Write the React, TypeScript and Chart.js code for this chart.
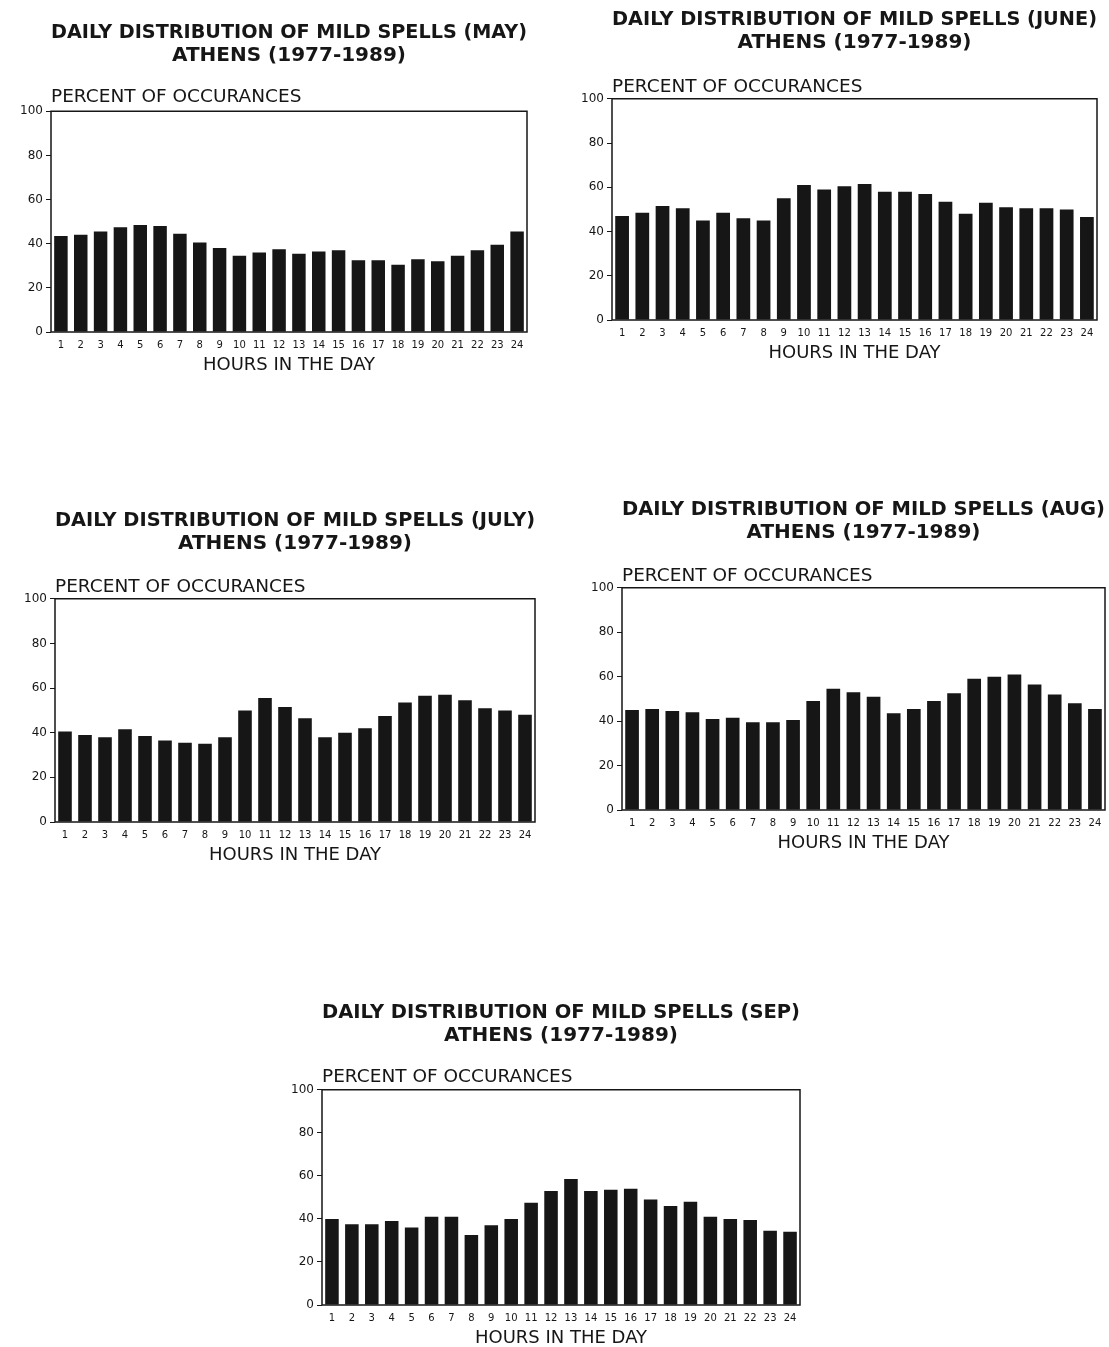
import React, { useEffect, useRef } from "react";
import { Chart, registerables } from "chart.js";

Chart.register(...registerables);

// ---------- data ----------
const HOURS = ["1", "2", "3", "4", "5", "6", "7", "8", "9", "10", "11", "12", "13", "14", "15", "16", "17", "18", "19", "20", "21", "22", "23", "24"];
const Y_TICKS = [0, 20, 40, 60, 80, 100];

const MAY = [43.5, 44, 45.5, 47.5, 48.5, 48, 44.5, 40.5, 38, 34.5, 36, 37.5, 35.5, 36.5, 37, 32.5, 32.5, 30.5, 33, 32, 34.5, 37, 39.5, 45.5];
const JUNE = [47, 48.5, 51.5, 50.5, 45, 48.5, 46, 45, 55, 61, 59, 60.5, 61.5, 58, 58, 57, 53.5, 48, 53, 51, 50.5, 50.5, 50, 46.5];
const JULY = [40.5, 39, 38, 41.5, 38.5, 36.5, 35.5, 35, 38, 50, 55.5, 51.5, 46.5, 38, 40, 42, 47.5, 53.5, 56.5, 57, 54.5, 51, 50, 48];
const AUG = [45, 45.5, 44.5, 44, 41, 41.5, 39.5, 39.5, 40.5, 49, 54.5, 53, 51, 43.5, 45.5, 49, 52.5, 59, 60, 61, 56.5, 52, 48, 45.5];
const SEP = [40, 37.5, 37.5, 39, 36, 41, 41, 32.5, 37, 40, 47.5, 53, 58.5, 53, 53.5, 54, 49, 46, 48, 41, 40, 39.5, 34.5, 34];

const SUBTITLE = "ATHENS (1977-1989)";
const Y_TITLE = "PERCENT OF OCCURANCES";
const X_TITLE = "HOURS IN THE DAY";

// ---------- panel layout (page coordinates) ----------
const PANELS = [
  { title: "DAILY DISTRIBUTION OF MILD SPELLS (MAY)", values: MAY, L: 51, R: 527, T: 111.5, B: 332, t1: 33, sub: 97, padR: 15 },
  { title: "DAILY DISTRIBUTION OF MILD SPELLS (JUNE)", values: JUNE, L: 612, R: 1097, T: 99, B: 320, t1: 20, sub: 87, padR: 12 },
  { title: "DAILY DISTRIBUTION OF MILD SPELLS (JULY)", values: JULY, L: 55, R: 535, T: 599, B: 822, t1: 521, sub: 587, padR: 15 },
  { title: "DAILY DISTRIBUTION OF MILD SPELLS (AUG)", values: AUG, L: 622, R: 1105, T: 588, B: 810, t1: 510, sub: 576, padR: 4 },
  { title: "DAILY DISTRIBUTION OF MILD SPELLS (SEP)", values: SEP, L: 322, R: 800, T: 1090, B: 1305, t1: 1013, sub: 1077, padR: 15 },
];

const FONT = "'DejaVu Sans', 'Liberation Sans', sans-serif";
const INK = "#161616";
const Y_AXIS_W = 50;
const X_AXIS_H = 45;
const TITLE_SIZE = 20;
const TITLE_LH = 1.175;
const TITLE_PAD_TOP = 4;
const SUB_SIZE = 18.5;
const SUB_LH = 1.15;
const XT_SIZE = 18;

const framePlugin = {
  id: "frame",
  afterDatasetsDraw(chart: any) {
    const { ctx, chartArea } = chart;
    const { left, top, right, bottom } = chartArea;
    ctx.save();
    ctx.strokeStyle = INK;
    ctx.lineWidth = 1.5;
    ctx.strokeRect(left, top, right - left, bottom - top);
    ctx.restore();
  },
};

function Panel(p: any) {
  const ref = useRef<HTMLCanvasElement>(null);
  const titleLine = TITLE_SIZE * TITLE_LH;
  const subLine = SUB_SIZE * SUB_LH;
  const canvasTop = p.t1 - titleLine / 2 - TITLE_PAD_TOP;
  const canvasLeft = p.L - Y_AXIS_W;
  const width = Y_AXIS_W + (p.R - p.L) + p.padR;
  const height = p.B - canvasTop + X_AXIS_H;
  const titleBottom = canvasTop + TITLE_PAD_TOP + 2 * titleLine;
  const subPadTop = p.sub - titleBottom - subLine / 2;
  const subPadBottom = p.T - p.sub - subLine / 2;
  const xtLine = XT_SIZE * 1.1;

  useEffect(() => {
    if (!ref.current) return;
    const chart = new Chart(ref.current, {
      type: "bar",
      data: {
        labels: HOURS,
        datasets: [
          {
            data: p.values,
            backgroundColor: INK,
            borderWidth: 0,
            barPercentage: 0.68,
            categoryPercentage: 1,
          },
        ],
      },
      options: {
        responsive: false,
        animation: false,
        devicePixelRatio: 1,
        layout: { padding: { left: 0, right: p.padR, top: 0, bottom: 0 } },
        plugins: {
          legend: { display: false },
          tooltip: { enabled: false },
          title: {
            display: true,
            text: [p.title, SUBTITLE],
            fullSize: false,
            align: "center",
            color: INK,
            font: { family: FONT, size: TITLE_SIZE, weight: "bold", lineHeight: TITLE_LH },
            padding: { top: TITLE_PAD_TOP, bottom: 0 },
          },
          subtitle: {
            display: true,
            text: Y_TITLE,
            fullSize: false,
            align: "start",
            color: INK,
            font: { family: FONT, size: SUB_SIZE, weight: "normal", lineHeight: SUB_LH },
            padding: { top: subPadTop, bottom: subPadBottom },
          },
        },
        scales: {
          x: {
            grid: { display: false, drawTicks: false },
            border: { display: false },
            ticks: {
              color: INK,
              font: { family: FONT, size: 10 },
              maxRotation: 0,
              autoSkip: false,
              padding: 7,
            },
            title: {
              display: true,
              text: X_TITLE,
              color: INK,
              font: { family: FONT, size: XT_SIZE, lineHeight: 1.1 },
              padding: { top: 0, bottom: X_AXIS_H - 33 - xtLine / 2 },
            },
            afterFit(scale: any) {
              scale.height = X_AXIS_H;
            },
          },
          y: {
            min: 0,
            max: 100,
            grid: { display: true, drawOnChartArea: false, drawTicks: true, tickLength: 5, color: INK, lineWidth: 1 },
            border: { display: false },
            ticks: {
              color: INK,
              font: { family: FONT, size: 12 },
              padding: 3,
            },
            afterBuildTicks(scale: any) {
              scale.ticks = Y_TICKS.map((v) => ({ value: v }));
            },
            afterFit(scale: any) {
              scale.width = Y_AXIS_W;
            },
          },
        },
      },
      plugins: [framePlugin],
    } as any);
    return () => chart.destroy();
  }, []);

  return (
    <canvas
      ref={ref}
      width={Math.round(width)}
      height={Math.round(height)}
      style={{ position: "absolute", left: canvasLeft, top: Math.round(canvasTop), width: Math.round(width), height: Math.round(height) }}
    />
  );
}

export default function App() {
  return (
    <div style={{ position: "absolute", left: 0, top: 0, width: 1109, height: 1347, background: "#ffffff", overflow: "hidden" }}>
      {PANELS.map((p, i) => (
        <Panel key={i} {...p} />
      ))}
    </div>
  );
}
